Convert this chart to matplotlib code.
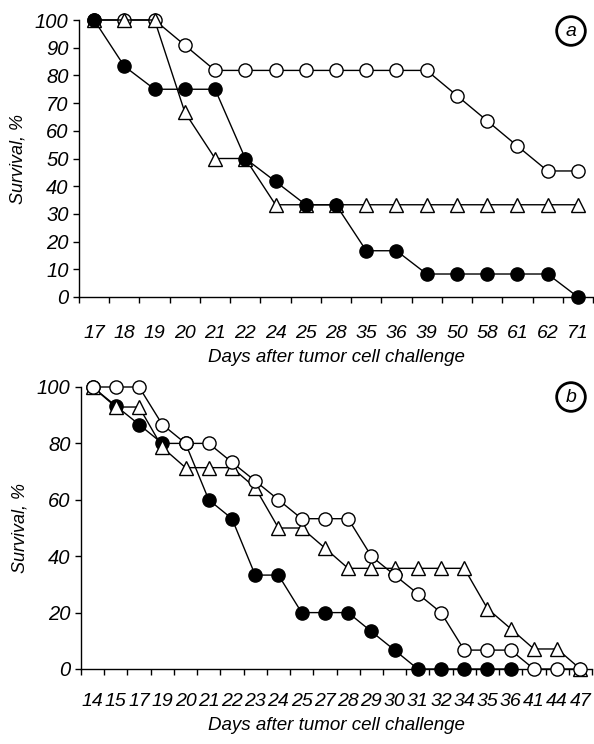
import matplotlib
matplotlib.use("Agg")
import matplotlib.pyplot as plt
from matplotlib.ticker import FixedLocator, NullFormatter

# Panel a data
days_a = ['17', '18', '19', '20', '21', '22', '24', '25', '28', '35', '36', '39', '50', '58', '61', '62', '71']
open_a = [100, 100, 100, 90.9, 81.8, 81.8, 81.8, 81.8, 81.8, 81.8, 81.8, 81.8, 72.7, 63.6, 54.5, 45.5, 45.5]
tri_a = [100, 100, 100, 66.7, 50, 50, 33.3, 33.3, 33.3, 33.3, 33.3, 33.3, 33.3, 33.3, 33.3, 33.3, 33.3]
filled_a = [100, 83.3, 75, 75, 75, 50, 41.7, 33.3, 33.3, 16.7, 16.7, 8.3, 8.3, 8.3, 8.3, 8.3, 0]

# Panel b data
days_b = ['14', '15', '17', '19', '20', '21', '22', '23', '24', '25', '27', '28', '29', '30', '31',
          '32', '34', '35', '36', '41', '44', '47']
open_b = [100, 100, 100, 86.7, 80, 80, 73.3, 66.7, 60, 53.3, 53.3, 53.3, 40, 33.3, 26.7,
          20, 6.7, 6.7, 6.7, 0, 0, 0]
tri_b = [100, 92.9, 92.9, 78.6, 71.4, 71.4, 71.4, 64.3, 50, 50, 42.9, 35.7, 35.7, 35.7, 35.7,
         35.7, 35.7, 21.4, 14.3, 7.1, 7.1, 0]
filled_b = [100, 93.3, 86.7, 80, 80, 60, 53.3, 33.3, 33.3, 20, 20, 20, 13.3, 6.7, 0,
            0, 0, 0, 0]

W, H = 594, 744
fam = ['Liberation Sans', 'DejaVu Sans']
narrow = ['Liberation Sans Narrow', 'Liberation Sans', 'DejaVu Sans']

fig = plt.figure(figsize=(W / 100, H / 100), dpi=100)


def px_axes(l, r, top, bottom):
    return fig.add_axes([l / W, 1 - bottom / H, (r - l) / W, (bottom - top) / H])


def style(ax, days, yticks, tick_pad, xlab_y):
    n = len(days)
    ax.set_xlim(-0.5, n - 0.5)
    ax.set_ylim(0, 100)
    for s in ['top', 'right']:
        ax.spines[s].set_visible(False)
    for s in ['left', 'bottom']:
        ax.spines[s].set_linewidth(1.0)
    ax.set_xticks(range(n))
    ax.set_xticklabels(days, family=narrow, style='italic', fontsize=14)
    ax.xaxis.set_minor_locator(FixedLocator([i - 0.5 for i in range(n + 1)]))
    ax.xaxis.set_minor_formatter(NullFormatter())
    ax.tick_params(axis='x', which='major', length=0, pad=tick_pad)
    ax.tick_params(axis='x', which='minor', length=4.5, width=1.0, direction='out')
    ax.set_yticks(yticks)
    ax.set_yticklabels([str(v) for v in yticks], family=fam, style='italic', fontsize=14.5)
    ax.tick_params(axis='y', length=4.5, width=1.0, direction='out', pad=3)
    ax.set_xlabel('Days after tumor cell challenge', family=fam, style='italic', fontsize=13.5)
    ax.xaxis.set_label_coords(0.5, xlab_y)
    ax.xaxis.label.set_va('center')
    ax.set_ylabel('Survival, %', family=fam, style='italic', fontsize=13)
    ax.yaxis.label.set_va('center')


def draw(ax, days, series, orders):
    x = range(len(days))
    for (vals, marker, face), z in zip(series, orders):
        ax.plot(list(x)[:len(vals)], vals, color='black', lw=1.0, marker=marker, ms=9.5,
                mfc=face, mec='black', mew=1.0, zorder=z, clip_on=False)


def badge(letter, cx, cy):
    fig.text(cx / W, 1 - cy / H, letter, family=fam, style='italic', fontsize=14,
             ha='center', va='center',
             bbox=dict(boxstyle='circle,pad=0.3', fc='white', ec='black', lw=2.0))


# Panel a
ax_a = px_axes(79, 593, 20, 297)
draw(ax_a, days_a,
     [(open_a, 'o', 'white'), (tri_a, '^', 'white'), (filled_a, 'o', 'black')],
     [3, 4, 5])
style(ax_a, days_a, list(range(0, 101, 10)), 20, -61 / 277)
ax_a.yaxis.set_label_coords(-61 / 514, 0.5)
badge('a', 571, 31)

# Panel b
ax_b = px_axes(81, 592, 387, 669)
draw(ax_b, days_b,
     [(filled_b, 'o', 'black'), (tri_b, '^', 'white'), (open_b, 'o', 'white')],
     [3, 4, 5])
style(ax_b, days_b, list(range(0, 101, 20)), 17, -56 / 282)
ax_b.yaxis.set_label_coords(-61 / 511, 0.5)
badge('b', 571, 397)

fig.savefig('out.png', dpi=100, facecolor='white')
